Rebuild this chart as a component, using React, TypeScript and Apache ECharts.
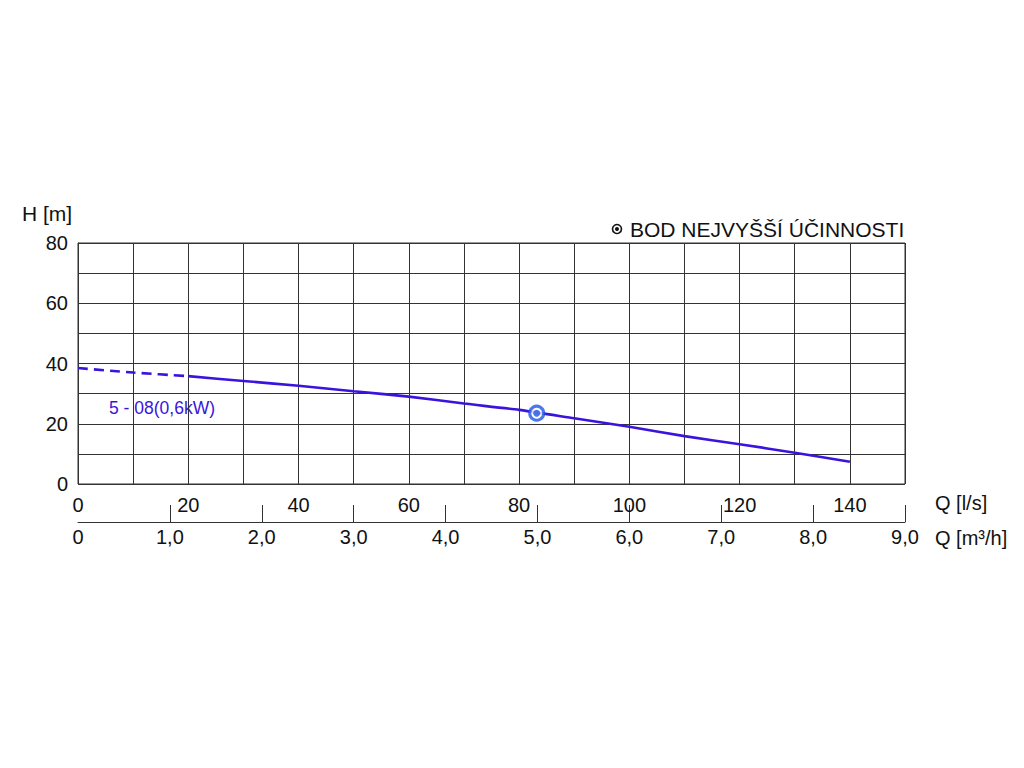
import React, { useEffect, useRef } from "react";
import * as echarts from "echarts";

// Flow in l/s and head in m
const flowLs = [0, 10, 20, 30, 40, 50, 60, 70, 80, 90, 100, 110, 120, 130, 140];
const headM = [38.5, 37.0, 35.8, 34.2, 32.6, 30.8, 29.0, 26.7, 24.6, 21.8, 19.0, 15.9, 13.2, 10.4, 7.4];
const dashedUntilQ = 20;
const bepPoint = [83.2, 23.5];
const curveLabel = "5 - 08(0,6kW)";
const legendText = "BOD NEJVYŠŠÍ ÚČINNOSTI";
const yTicksShown = [0, 20, 40, 60, 80];
const lsTicksShown = [0, 20, 40, 60, 80, 100, 120, 140];
const m3hTicks = [0, 1, 2, 3, 4, 5, 6, 7, 8, 9];
const m3hTickMarks = [1, 2, 3, 4, 5, 6, 7, 8, 9];

const FONT = "'Liberation Sans', Arial, Helvetica, sans-serif";
const LINE_COLOR = "#3a14dc";
const BEP_COLOR = "#1f55e6";

export default function App() {
  const ref = useRef<HTMLDivElement>(null);
  useEffect(() => {
    if (!ref.current) return;
    const chart = echarts.init(ref.current, undefined, { renderer: "svg" });
    const pts = flowLs.map((q, i) => [q, headM[i]]);
    const dashed = pts.filter((p) => p[0] <= dashedUntilQ);
    const solid = pts.filter((p) => p[0] >= dashedUntilQ);
    const fmtM3h = (v: number) => (v === 0 ? "0" : v.toFixed(1).replace(".", ","));
    chart.setOption({
      animation: false,
      backgroundColor: "#fff",
      textStyle: { fontFamily: FONT },
      grid: {
        left: 78,
        right: 119,
        top: 243,
        bottom: 284,
        show: true,
        borderColor: "#333",
        borderWidth: 1,
        backgroundColor: "transparent",
      },
      xAxis: [
        {
          type: "value",
          min: 0,
          max: 150,
          interval: 10,
          position: "bottom",
          axisLine: { show: false },
          axisTick: { show: false },
          axisLabel: {
            margin: 11,
            fontSize: 20,
            color: "#111",
            fontFamily: FONT,
            formatter: (v: number) => (lsTicksShown.includes(v) ? String(v) : ""),
          },
          splitLine: { show: true, lineStyle: { color: "#333", width: 1 } },
        },
        {
          type: "value",
          min: 0,
          max: 9,
          interval: 1,
          position: "bottom",
          offset: 38,
          axisLine: { show: true, lineStyle: { color: "#333", width: 1 } },
          axisTick: {
            show: true,
            inside: true,
            length: 17,
            customValues: m3hTickMarks,
            lineStyle: { color: "#333", width: 1 },
          },
          axisLabel: {
            margin: 5,
            fontSize: 20,
            color: "#111",
            fontFamily: FONT,
            formatter: (v: number) => (m3hTicks.includes(v) ? fmtM3h(v) : ""),
          },
          splitLine: { show: false },
        },
      ],
      yAxis: {
        type: "value",
        min: 0,
        max: 80,
        interval: 10,
        axisLine: { show: true, lineStyle: { color: "#333" } },
        axisTick: { show: false },
        axisLabel: {
          margin: 10,
          fontSize: 20,
          color: "#111",
          fontFamily: FONT,
          formatter: (v: number) => (yTicksShown.includes(v) ? String(v) : ""),
        },
        splitLine: { show: true, lineStyle: { color: "#333", width: 1 } },
      },
      series: [
        {
          type: "line",
          xAxisIndex: 0,
          data: dashed,
          showSymbol: false,
          smooth: 0.2,
          lineStyle: { color: LINE_COLOR, width: 2.6, type: [10, 6] },
          z: 3,
        },
        {
          type: "line",
          xAxisIndex: 0,
          data: solid,
          showSymbol: false,
          smooth: 0.2,
          lineStyle: { color: LINE_COLOR, width: 2.6 },
          z: 3,
        },
        {
          type: "scatter",
          xAxisIndex: 0,
          data: [bepPoint],
          symbol: "circle",
          symbolSize: 14,
          itemStyle: { color: "#fff", borderColor: BEP_COLOR, borderWidth: 3 },
          z: 4,
        },
        {
          type: "scatter",
          xAxisIndex: 0,
          data: [bepPoint],
          symbol: "circle",
          symbolSize: 7,
          itemStyle: { color: BEP_COLOR },
          z: 5,
        },
      ],
      graphic: [
        {
          type: "text",
          x: 22,
          y: 213,
          style: { text: "H [m]", fontSize: 21, fill: "#111", fontFamily: FONT, verticalAlign: "middle" },
        },
        {
          type: "text",
          x: 935,
          y: 503,
          style: { text: "Q [l/s]", fontSize: 20, fill: "#111", fontFamily: FONT, verticalAlign: "middle" },
        },
        {
          type: "text",
          x: 935,
          y: 538,
          style: { text: "Q [m³/h]", fontSize: 20, fill: "#111", fontFamily: FONT, verticalAlign: "middle" },
        },
        {
          type: "text",
          x: 109,
          y: 408,
          style: { text: curveLabel, fontSize: 17.5, fill: LINE_COLOR, fontFamily: FONT, verticalAlign: "middle" },
        },
        {
          type: "circle",
          shape: { cx: 617, cy: 229, r: 4.5 },
          style: { fill: "#fff", stroke: "#111", lineWidth: 1.6 },
        },
        {
          type: "circle",
          shape: { cx: 617, cy: 229, r: 2 },
          style: { fill: "#111" },
        },
        {
          type: "text",
          x: 630,
          y: 229,
          style: { text: legendText, fontSize: 21, fill: "#111", fontFamily: FONT, verticalAlign: "middle" },
        },
      ],
    });
    return () => chart.dispose();
  }, []);
  return (
    <div
      ref={ref}
      style={{ position: "absolute", left: 0, top: 0, width: 1024, height: 768 }}
    />
  );
}
